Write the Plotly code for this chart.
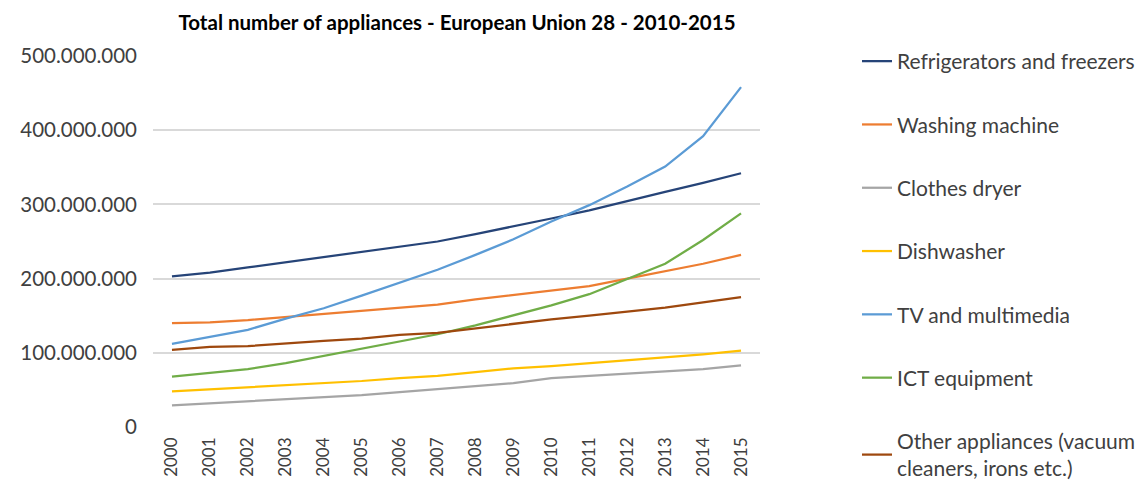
import plotly.graph_objects as go

years = [str(y) for y in range(2000, 2016)]

refrigerators = [203, 208, 215, 222, 229, 235, 243, 250, 260, 270, 281, 292, 305, 317, 329, 342]
washing = [140, 141, 144, 148, 152, 157, 160, 165, 172, 178, 185, 190, 200, 210, 220, 232]
dryer = [29, 32, 34, 37, 40, 43, 47, 51, 55, 59, 66, 69, 72, 74, 78, 83]
dishwasher = [48, 51, 53, 56, 59, 62, 66, 69, 74, 79, 82, 86, 89, 94, 98, 103]
tv = [112, 121, 131, 146, 160, 177, 195, 212, 232, 253, 277, 299, 324, 351, 392, 458]
ict = [68, 73, 78, 86, 96, 105, 115, 125, 137, 150, 164, 179, 200, 220, 252, 288]
other = [104, 108, 109, 112, 116, 119, 124, 127, 133, 138, 145, 150, 155, 161, 168, 175]

series_names = [
    "Refrigerators and freezers",
    "Washing machine",
    "Clothes dryer",
    "Dishwasher",
    "TV and multimedia",
    "ICT equipment",
    "Other appliances (vacuum<br>cleaners, irons etc.)",
]
series_values = [refrigerators, washing, dryer, dishwasher, tv, ict, other]
colors = ["#264478", "#ED7D31", "#A5A5A5", "#FFC000", "#5B9BD5", "#70AD47", "#9E480E"]

FONT = "Lato"
W, H = 1144, 486

fig = go.Figure()
for i, (name, vals, col) in enumerate(zip(series_names, series_values, colors)):
    fig.add_trace(go.Scatter(
        x=years, y=[v * 1_000_000 for v in vals], name=name, mode="lines",
        line=dict(color=col, width=2.25), legendgroup=f"g{i}",
    ))

fig.update_layout(
    width=W, height=H,
    margin=dict(l=145, r=392, t=48, b=67, autoexpand=False),
    paper_bgcolor="white", plot_bgcolor="white",
    separators=",.",
    font=dict(family=FONT, color="#404040"),
    title=dict(text="<b>Total number of appliances - European Union 28 - 2010-2015</b>",
               x=449 / W, xanchor="center", y=1 - 15 / H, yanchor="middle",
               font=dict(size=20.5, family=FONT, color="#000000")),
    showlegend=True,
    legend=dict(xref="container", yref="container", x=849 / W, y=1 - 33 / H,
                xanchor="left", yanchor="top", tracegroupgap=33, maxheight=1.0,
                font=dict(size=21, family=FONT, color="#404040"),
                bgcolor="rgba(0,0,0,0)"),
    xaxis=dict(type="category", range=[-0.5, 15.5], tickangle=-90, showgrid=False,
               showline=False, ticks="", ticklabelstandoff=6, automargin=False,
               tickfont=dict(size=17, family=FONT, color="#404040")),
    yaxis=dict(range=[0, 500_000_000], dtick=100_000_000, tickformat=",d",
               showgrid=True, gridcolor="#D9D9D9", gridwidth=1.5, zeroline=False,
               showline=False, ticks="", ticklabelstandoff=15, automargin=False,
               tickfont=dict(size=20.5, family=FONT, color="#404040")),
)

fig.write_html("out.html")
